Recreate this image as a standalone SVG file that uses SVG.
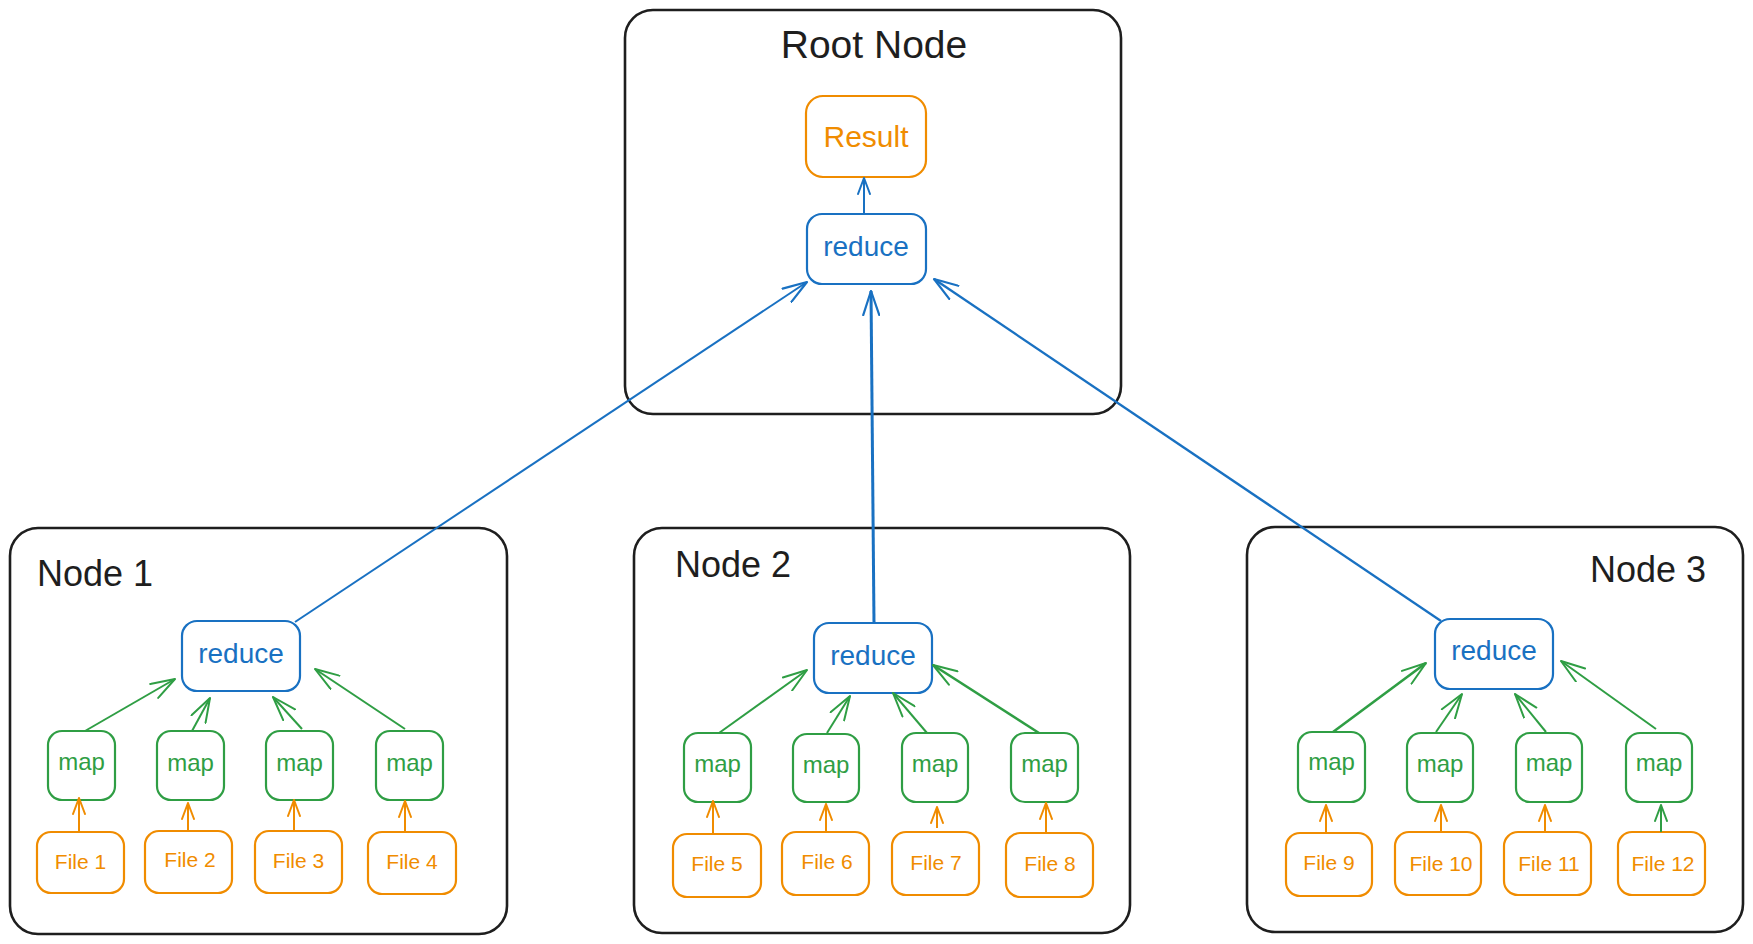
<svg xmlns="http://www.w3.org/2000/svg" width="1753" height="944" viewBox="0 0 1753 944">
<style>
.bg{fill:#ffffff}
.cont{fill:none;stroke:#1e1e1e;stroke-width:2.6}
.ttl{font-family:"Liberation Sans",Arial,sans-serif;font-size:36px;fill:#1e1e1e}
.rbox{fill:none;stroke:#1971c2;stroke-width:2.2}
.mbox{fill:none;stroke:#2f9e44;stroke-width:2.2}
.fbox{fill:none;stroke:#f08c00;stroke-width:2.2}
.rt{font-family:"Liberation Sans",Arial,sans-serif;font-size:28px;fill:#1971c2;text-anchor:middle}
.mt{font-family:"Liberation Sans",Arial,sans-serif;font-size:24px;fill:#2f9e44;text-anchor:middle}
.ft{font-family:"Liberation Sans",Arial,sans-serif;font-size:21px;fill:#f08c00;text-anchor:middle}
.rest{font-family:"Liberation Sans",Arial,sans-serif;font-size:30px;fill:#f08c00;text-anchor:middle}
.cb{fill:none;stroke:#1971c2;stroke-width:2;marker-end:url(#ab)}
.cbs{fill:none;stroke:#1971c2;stroke-width:2;marker-end:url(#abs)}
.cg{fill:none;stroke:#2f9e44;stroke-width:2;marker-end:url(#ag)}
.co{fill:none;stroke:#f08c00;stroke-width:2;marker-end:url(#ao)}
.cgs{fill:none;stroke:#2f9e44;stroke-width:2;marker-end:url(#ags)}
</style>
<defs>
<marker id="ab" viewBox="0 0 26 18" refX="25" refY="9" markerWidth="26" markerHeight="18" markerUnits="userSpaceOnUse" orient="auto"><path d="M1,1 L25,9 L1,17" fill="none" stroke="#1971c2" stroke-width="2.2" stroke-linecap="round" stroke-linejoin="round"/></marker>
<marker id="abs" viewBox="0 0 18 14" refX="17" refY="7" markerWidth="18" markerHeight="14" markerUnits="userSpaceOnUse" orient="auto"><path d="M1,1 L17,7 L1,13" fill="none" stroke="#1971c2" stroke-width="2" stroke-linecap="round" stroke-linejoin="round"/></marker>
<marker id="ag" viewBox="0 0 26 18" refX="25" refY="9" markerWidth="26" markerHeight="18" markerUnits="userSpaceOnUse" orient="auto"><path d="M1,1 L25,9 L1,17" fill="none" stroke="#2f9e44" stroke-width="2" stroke-linecap="round" stroke-linejoin="round"/></marker>
<marker id="ao" viewBox="0 0 18 14" refX="17" refY="7" markerWidth="18" markerHeight="14" markerUnits="userSpaceOnUse" orient="auto"><path d="M1,1 L17,7 L1,13" fill="none" stroke="#f08c00" stroke-width="2" stroke-linecap="round" stroke-linejoin="round"/></marker>
<marker id="ags" viewBox="0 0 18 14" refX="17" refY="7" markerWidth="18" markerHeight="14" markerUnits="userSpaceOnUse" orient="auto"><path d="M1,1 L17,7 L1,13" fill="none" stroke="#2f9e44" stroke-width="2" stroke-linecap="round" stroke-linejoin="round"/></marker>
</defs>
<rect class="bg" x="0" y="0" width="1753" height="944"/>

<g id="root-node">
<rect class="cont" x="625" y="10" width="496" height="404" rx="28"/>
<text class="ttl" x="874" y="58" text-anchor="middle" style="font-size:39px">Root Node</text>
</g>
<g id="result">
<rect class="fbox" x="806" y="96" width="120" height="81" rx="17"/>
<text class="rest" x="866" y="147">Result</text>
</g>
<g id="root-reduce">
<rect class="rbox" x="807" y="214" width="119" height="70" rx="15"/>
<text class="rt" x="866" y="256">reduce</text>
</g>

<g id="node1">
<rect class="cont" x="10" y="528" width="497" height="406" rx="28"/>
<text class="ttl" x="37" y="586">Node 1</text>
</g>
<g id="node1-reduce"><rect class="rbox" x="182" y="621" width="118" height="70" rx="15"/><text class="rt" x="241" y="663">reduce</text></g>
<g id="node1-map1"><rect class="mbox" x="48" y="731" width="67" height="69" rx="14"/><text class="mt" x="81.5" y="770">map</text></g>
<g id="node1-map2"><rect class="mbox" x="157" y="731" width="67" height="69" rx="14"/><text class="mt" x="190.5" y="771">map</text></g>
<g id="node1-map3"><rect class="mbox" x="266" y="731" width="67" height="69" rx="14"/><text class="mt" x="299.5" y="771">map</text></g>
<g id="node1-map4"><rect class="mbox" x="376" y="731" width="67" height="69" rx="14"/><text class="mt" x="409.5" y="771">map</text></g>
<g id="file1"><rect class="fbox" x="37" y="832" width="87" height="61" rx="14"/><text class="ft" x="80.5" y="869">File 1</text></g>
<g id="file2"><rect class="fbox" x="145" y="831" width="87" height="62" rx="14"/><text class="ft" x="190" y="867">File 2</text></g>
<g id="file3"><rect class="fbox" x="255" y="831" width="87" height="62" rx="14"/><text class="ft" x="298.5" y="868">File 3</text></g>
<g id="file4"><rect class="fbox" x="368" y="832" width="88" height="62" rx="14"/><text class="ft" x="412" y="869">File 4</text></g>

<g id="node2">
<rect class="cont" x="634" y="528" width="496" height="405" rx="28"/>
<text class="ttl" x="675" y="577">Node 2</text>
</g>
<g id="node2-reduce"><rect class="rbox" x="814" y="623" width="118" height="70" rx="15"/><text class="rt" x="873" y="665">reduce</text></g>
<g id="node2-map1"><rect class="mbox" x="684" y="733" width="67" height="69" rx="14"/><text class="mt" x="717.5" y="772">map</text></g>
<g id="node2-map2"><rect class="mbox" x="793" y="734" width="66" height="68" rx="14"/><text class="mt" x="826" y="773">map</text></g>
<g id="node2-map3"><rect class="mbox" x="902" y="733" width="66" height="69" rx="14"/><text class="mt" x="935" y="772">map</text></g>
<g id="node2-map4"><rect class="mbox" x="1011" y="733" width="67" height="69" rx="14"/><text class="mt" x="1044.5" y="772">map</text></g>
<g id="file5"><rect class="fbox" x="673" y="834" width="88" height="63" rx="14"/><text class="ft" x="717" y="871">File 5</text></g>
<g id="file6"><rect class="fbox" x="782" y="832" width="87" height="63" rx="14"/><text class="ft" x="827" y="869">File 6</text></g>
<g id="file7"><rect class="fbox" x="892" y="832" width="87" height="63" rx="14"/><text class="ft" x="936" y="870">File 7</text></g>
<g id="file8"><rect class="fbox" x="1006" y="833" width="87" height="64" rx="14"/><text class="ft" x="1050" y="871">File 8</text></g>

<g id="node3">
<rect class="cont" x="1247" y="527" width="496" height="405" rx="28"/>
<text class="ttl" x="1706" y="582" text-anchor="end">Node 3</text>
</g>
<g id="node3-reduce"><rect class="rbox" x="1435" y="619" width="118" height="70" rx="15"/><text class="rt" x="1494" y="660">reduce</text></g>
<g id="node3-map1"><rect class="mbox" x="1298" y="732" width="67" height="70" rx="14"/><text class="mt" x="1331.5" y="770">map</text></g>
<g id="node3-map2"><rect class="mbox" x="1407" y="733" width="66" height="69" rx="14"/><text class="mt" x="1440" y="772">map</text></g>
<g id="node3-map3"><rect class="mbox" x="1516" y="733" width="66" height="69" rx="14"/><text class="mt" x="1549" y="771">map</text></g>
<g id="node3-map4"><rect class="mbox" x="1626" y="733" width="66" height="69" rx="14"/><text class="mt" x="1659" y="771">map</text></g>
<g id="file9"><rect class="fbox" x="1286" y="833" width="86" height="63" rx="14"/><text class="ft" x="1329" y="870">File 9</text></g>
<g id="file10"><rect class="fbox" x="1395" y="832" width="86" height="63" rx="14"/><text class="ft" x="1441" y="871">File 10</text></g>
<g id="file11"><rect class="fbox" x="1504" y="832" width="87" height="63" rx="14"/><text class="ft" x="1549" y="871">File 11</text></g>
<g id="file12"><rect class="fbox" x="1618" y="832" width="87" height="63" rx="14"/><text class="ft" x="1663" y="871">File 12</text></g>

<g id="connectors">
<path class="cb" d="M295,622 L807,282"/>
<path class="cb" d="M874,623 L871,291" style="stroke-width:3"/>
<path class="cb" d="M1441,621 L934,279" style="stroke-width:2.3"/>
<path class="cbs" d="M864,214 L864,178"/>

<path class="cg" d="M85,731 L175,679"/>
<path class="cg" d="M192,731 L210,698"/>
<path class="cg" d="M302,729 L273,697"/>
<path class="cg" d="M405,729 L315,669"/>
<path class="co" d="M79,832 L79,798"/>
<path class="co" d="M188,830 L188,803"/>
<path class="co" d="M294,832 L294,800"/>
<path class="co" d="M405,832 L405,801"/>

<path class="cg" d="M719,733 L807,670"/>
<path class="cg" d="M827,733 L850,696"/>
<path class="cg" d="M927,733 L893,693"/>
<path class="cg" d="M1039,733 L933,665" style="stroke-width:2.6"/>
<path class="co" d="M713,833 L713,801"/>
<path class="co" d="M826,832 L826,804"/>
<path class="co" d="M937,828 L937,807"/>
<path class="co" d="M1046,833 L1046,803"/>

<path class="cg" d="M1333,732 L1426,663" style="stroke-width:2.6"/>
<path class="cg" d="M1436,732 L1462,694"/>
<path class="cg" d="M1546,732 L1515,694"/>
<path class="cg" d="M1656,729 L1561,661"/>
<path class="co" d="M1326,832 L1326,805"/>
<path class="co" d="M1441,832 L1441,805"/>
<path class="co" d="M1545,832 L1545,805"/>
<path class="cgs" d="M1661,832 L1661,805"/>
</g>
</svg>
